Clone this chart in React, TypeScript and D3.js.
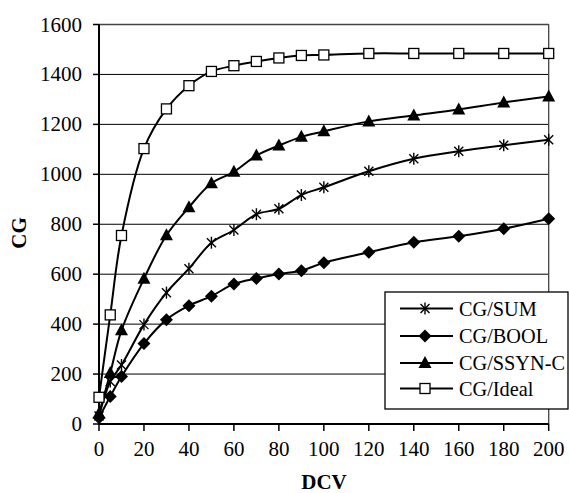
import React from 'react';
import * as d3 from 'd3';

// DCV values on the x axis
const dcv = [0, 5, 10, 20, 30, 40, 50, 60, 70, 80, 90, 100, 120, 140, 160, 180, 200];

// CG values per series
const cgSum = [32, 170, 236, 398, 526, 622, 726, 777, 840, 862, 917, 948, 1012, 1062, 1092, 1116, 1138];
const cgBool = [25, 110, 190, 322, 418, 474, 512, 561, 583, 601, 614, 646, 688, 728, 752, 782, 822];
const cgSsyn = [42, 204, 375, 582, 756, 868, 964, 1010, 1075, 1115, 1150, 1172, 1212, 1236, 1260, 1288, 1312];
const cgIdeal = [107, 437, 755, 1103, 1262, 1355, 1412, 1435, 1452, 1466, 1476, 1478, 1484, 1484, 1484, 1484, 1484];

const seriesNames = ['CG/SUM', 'CG/BOOL', 'CG/SSYN-C', 'CG/Ideal'];
const seriesValues = [cgSum, cgBool, cgSsyn, cgIdeal];
const seriesMarkers = ['star', 'diamond', 'triangle', 'square'];

const yTicks = [0, 200, 400, 600, 800, 1000, 1200, 1400, 1600];
const xTicks = [0, 20, 40, 60, 80, 100, 120, 140, 160, 180, 200];

const W = 569;
const H = 493;
const FONT = "'Liberation Serif', 'DejaVu Serif', serif";

function Marker({ kind, cx, cy }: { kind: string; cx: number; cy: number }) {
  if (kind === 'square') {
    return <rect x={cx - 5} y={cy - 5} width={10} height={10} fill="#fff" stroke="#000" strokeWidth={1.3} />;
  }
  if (kind === 'diamond') {
    return <path d={`M${cx},${cy - 6.5}L${cx + 6.5},${cy}L${cx},${cy + 6.5}L${cx - 6.5},${cy}Z`} fill="#000" />;
  }
  if (kind === 'triangle') {
    return <path d={`M${cx},${cy - 7}L${cx + 6.5},${cy + 5}L${cx - 6.5},${cy + 5}Z`} fill="#000" />;
  }
  // asterisk
  const r = 6;
  const d = r * 0.75;
  return (
    <g stroke="#000" strokeWidth={1.4}>
      <line x1={cx} y1={cy - r} x2={cx} y2={cy + r} />
      <line x1={cx - d} y1={cy - d} x2={cx + d} y2={cy + d} />
      <line x1={cx - d} y1={cy + d} x2={cx + d} y2={cy - d} />
    </g>
  );
}

export default function App() {
  const left = 99;
  const right = 548.7;
  const top = 24.5;
  const bottom = 424;

  const x = d3.scaleLinear().domain([0, 200]).range([left, right]);
  const y = d3.scaleLinear().domain([0, 1600]).range([bottom, top]);

  const line = d3
    .line<number>()
    .x((_, i) => x(dcv[i]))
    .y(d => y(d))
    .curve(d3.curveCatmullRom.alpha(0.5));

  // legend
  const lgX = 385;
  const lgY = 292;
  const lgW = 183;
  const lgH = 117;
  const lgRows = [308.5, 336, 363, 388.5];

  const txt = { fontFamily: FONT };

  return (
    <svg
      width={W}
      height={H}
      style={{ position: 'absolute', left: 0, top: 0, background: '#fff', fontFamily: FONT }}
    >
      <rect x={0} y={0} width={W} height={H} fill="#fff" />

      {/* gridlines */}
      {yTicks.slice(1).map(t => (
        <line key={t} x1={left} x2={right} y1={y(t)} y2={y(t)} stroke="#000" strokeWidth={1} />
      ))}
      {/* plot border top / right */}
      <line x1={right} x2={right} y1={top} y2={bottom} stroke="#444" strokeWidth={1.3} />
      <line x1={left} x2={right} y1={top} y2={top} stroke="#444" strokeWidth={1.3} />

      {/* y axis */}
      <line x1={left} x2={left} y1={top} y2={bottom} stroke="#000" strokeWidth={2} />
      {yTicks.map(t => (
        <g key={t}>
          <line x1={left - 6} x2={left} y1={y(t)} y2={y(t)} stroke="#000" strokeWidth={1.5} />
          <text x={82} y={y(t) + 7} textAnchor="end" fontSize={21} fill="#000" style={txt}>
            {t}
          </text>
        </g>
      ))}

      {/* x axis */}
      <line x1={left} x2={right} y1={bottom} y2={bottom} stroke="#000" strokeWidth={2} />
      {xTicks.map(t => (
        <g key={t}>
          <line x1={x(t)} x2={x(t)} y1={bottom} y2={bottom + 7} stroke="#000" strokeWidth={1.5} />
          <text x={x(t)} y={456} textAnchor="middle" fontSize={21} fill="#000" style={txt}>
            {t}
          </text>
        </g>
      ))}

      {/* axis titles */}
      <text x={324} y={489} textAnchor="middle" fontSize={21} fontWeight="bold" fill="#000" style={txt}>
        DCV
      </text>
      <text
        transform="translate(26,233) rotate(-90)"
        textAnchor="middle"
        fontSize={21}
        fontWeight="bold"
        fill="#000"
        style={txt}
      >
        CG
      </text>

      {/* series */}
      {seriesValues.map((vals, si) => (
        <g key={seriesNames[si]}>
          <path d={line(vals) || ''} fill="none" stroke="#000" strokeWidth={2} />
          {vals.map((v, i) => (
            <Marker key={i} kind={seriesMarkers[si]} cx={x(dcv[i])} cy={y(v)} />
          ))}
        </g>
      ))}

      {/* legend */}
      <rect x={lgX} y={lgY} width={lgW} height={lgH} fill="#fff" stroke="#000" strokeWidth={1.3} />
      {seriesNames.map((name, i) => (
        <g key={name}>
          <line x1={400} x2={453} y1={lgRows[i]} y2={lgRows[i]} stroke="#000" strokeWidth={2} />
          <Marker kind={seriesMarkers[i]} cx={425} cy={lgRows[i]} />
          <text x={459} y={lgRows[i] + 7} fontSize={20.3} fill="#000" style={txt}>
            {name}
          </text>
        </g>
      ))}
    </svg>
  );
}
